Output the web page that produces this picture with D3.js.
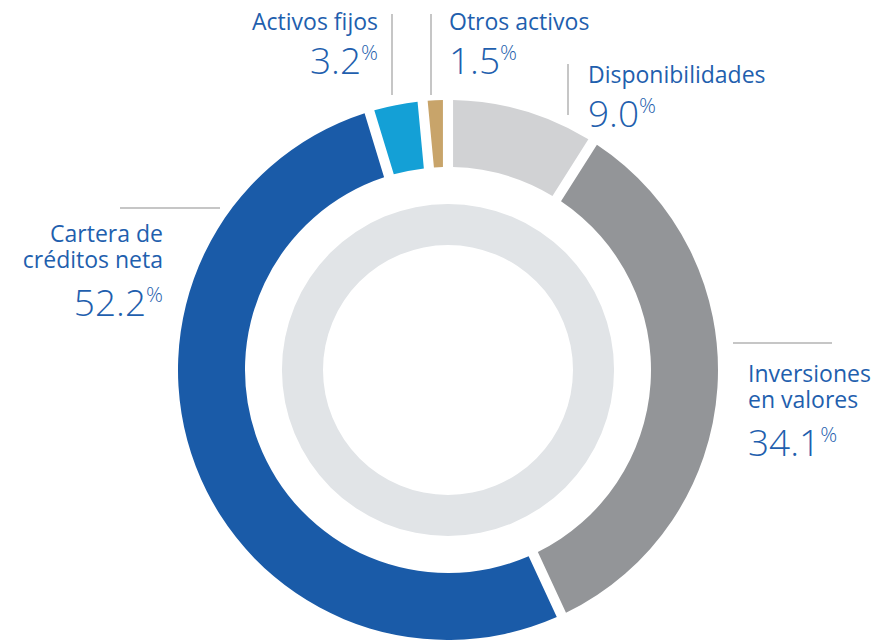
<!DOCTYPE html>
<html>
<head>
<meta charset="utf-8">
<script src="https://cdn.jsdelivr.net/npm/d3@7"></script>
<style>
    body { margin: 0; background: #fff; }
    svg { display: block; }
    .lbl { font-family: "Open Sans", Lato, sans-serif; fill: #1f5fae; }
</style>
</head>
<body>
<svg id="chart" width="878" height="640"></svg>
<script>
//----- data -----
var categories = ["Disponibilidades", "Inversiones en valores", "Cartera de créditos neta", "Activos fijos", "Otros activos"];
var labelLines = [["Disponibilidades"], ["Inversiones", "en valores"], ["Cartera de", "créditos neta"], ["Activos fijos"], ["Otros activos"]];
var values = [9.0, 34.1, 52.2, 3.2, 1.5];

//----- layout -----
var width = 878, height = 640;
var cx = 448, cy = 370;
var outerR = 270, innerR = 203;

var color = d3.scaleOrdinal()
    .domain(categories)
    .range(["#d1d2d4", "#939598", "#1a5ba8", "#14a0d6", "#c8a46a"]);

var svg = d3.select("#chart");
var g = svg.append("g").attr("transform", "translate(" + cx + "," + cy + ")");

//decorative inner ring
g.append("path")
    .attr("d", d3.arc().innerRadius(125).outerRadius(166).startAngle(0).endAngle(2 * Math.PI)())
    .attr("fill", "#e1e4e7");

var pie = d3.pie().sort(null).value(function (d) { return d; });
var arc = d3.arc().innerRadius(innerR).outerRadius(outerR).padAngle(0.03);

g.selectAll("path.slice")
    .data(pie(values))
    .enter().append("path")
    .attr("class", "slice")
    .attr("d", arc)
    .attr("fill", function (d, i) { return color(categories[i]); });

//label placement (anchor point, alignment, leader line)
var labelPos = [
    { x: 588, y: 83, anchor: "start", line: [568, 64, 568, 115] },
    { x: 748, y: 382, anchor: "start", line: [733, 343, 832, 343] },
    { x: 163, y: 242, anchor: "end", line: [120, 208, 220, 208] },
    { x: 378, y: 30, anchor: "end", line: [392, 14, 392, 95] },
    { x: 449, y: 30, anchor: "start", line: [431, 14, 431, 95] }
];

labelPos.forEach(function (p, i) {
    svg.append("line")
        .attr("x1", p.line[0]).attr("y1", p.line[1])
        .attr("x2", p.line[2]).attr("y2", p.line[3])
        .attr("stroke", "#b3b3b3").attr("stroke-width", 1.5);

    var lines = labelLines[i];
    var t = svg.append("text")
        .attr("class", "lbl")
        .attr("text-anchor", p.anchor)
        .attr("font-size", 23);
    lines.forEach(function (s, k) {
        t.append("tspan").attr("x", p.x).attr("y", p.y + k * 26).text(s);
    });

    var numY = p.y + (lines.length - 1) * 26 + (lines.length > 1 ? 48 : 44);
    var n = svg.append("text")
        .attr("class", "lbl")
        .attr("text-anchor", p.anchor)
        .attr("x", p.x).attr("y", numY);
    n.append("tspan").attr("font-size", 37).attr("font-weight", 300).text(values[i].toFixed(1));
    n.append("tspan").attr("font-size", 21).attr("font-weight", 300).attr("dy", -14).text("%");
});
</script>
</body>
</html>
